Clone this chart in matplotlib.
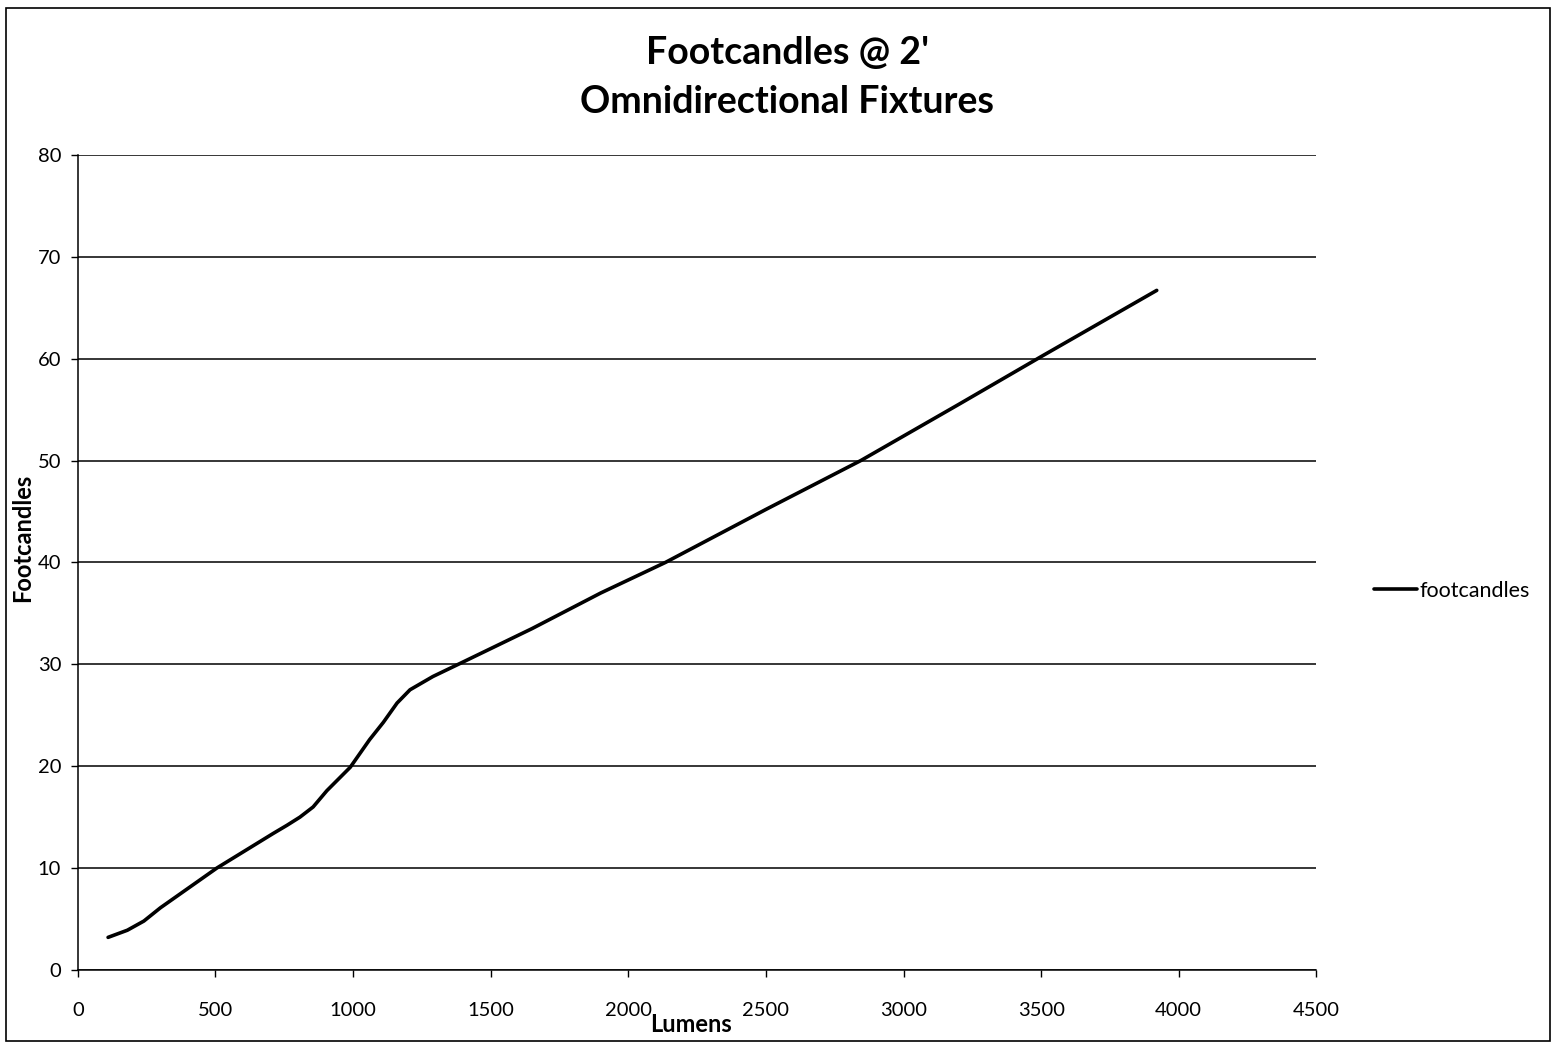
import matplotlib.pyplot as plt
from matplotlib.patches import Rectangle

# values
lumens = [110, 180, 240, 300, 505, 710, 760, 807, 855, 905, 990, 1060, 1110, 1160,
          1207, 1290, 1390, 1650, 1900, 2135, 2500, 2845, 3200, 3500, 3920]
footcandles = [3.2, 3.9, 4.8, 6.1, 10.0, 13.4, 14.2, 15.0, 16.0, 17.6, 19.9, 22.6,
               24.3, 26.2, 27.5, 28.8, 30.1, 33.5, 37.0, 40.0, 45.2, 50.0, 55.5,
               60.2, 66.7]
x_ticks = [0, 500, 1000, 1500, 2000, 2500, 3000, 3500, 4000, 4500]
y_ticks = [0, 10, 20, 30, 40, 50, 60, 70, 80]

plt.rcParams['font.family'] = ['Lato', 'DejaVu Sans']

fig = plt.figure(figsize=(15.56, 10.45), dpi=100)
ax = fig.add_axes([0.050, 0.0718, 0.796, 0.78])

ax.plot(lumens, footcandles, color='black', linewidth=2.6, label='footcandles',
        solid_capstyle='round', solid_joinstyle='round')

ax.set_xlim(0, 4500)
ax.set_ylim(0, 80)
ax.set_xticks(x_ticks)
ax.set_yticks(y_ticks)
ax.tick_params(labelsize=14.5, length=5, width=1, color='black')
ax.tick_params(axis='x', pad=18)
ax.tick_params(axis='y', pad=7)
ax.yaxis.grid(True, color='black', linewidth=1.1)
ax.set_axisbelow(True)
for side in ['top', 'right']:
    ax.spines[side].set_visible(False)
for side in ['left', 'bottom']:
    ax.spines[side].set_linewidth(1.1)

ax.set_ylabel('Footcandles', fontsize=17, fontweight='bold')
ax.yaxis.set_label_coords(-0.035, 0.53)
ax.set_xlabel('Lumens', fontsize=17, fontweight='bold')
ax.xaxis.set_label_coords(0.495, -0.053)

fig.text(0.506, 0.949, "Footcandles @ 2'", ha='center', va='center',
         fontsize=27, fontweight='bold')
fig.text(0.506, 0.902, 'Omnidirectional Fixtures', ha='center', va='center',
         fontsize=27, fontweight='bold')

ax.legend(loc='center left', bbox_to_anchor=(1.031, 0.465), frameon=False,
          fontsize=15.5, handlelength=2.0, handletextpad=0.1)

# outer chart border
fig.patches.append(Rectangle((0.004, 0.004), 0.992, 0.988, transform=fig.transFigure,
                             fill=False, edgecolor='black', linewidth=1.2))

fig.savefig('out.png', dpi=100)
